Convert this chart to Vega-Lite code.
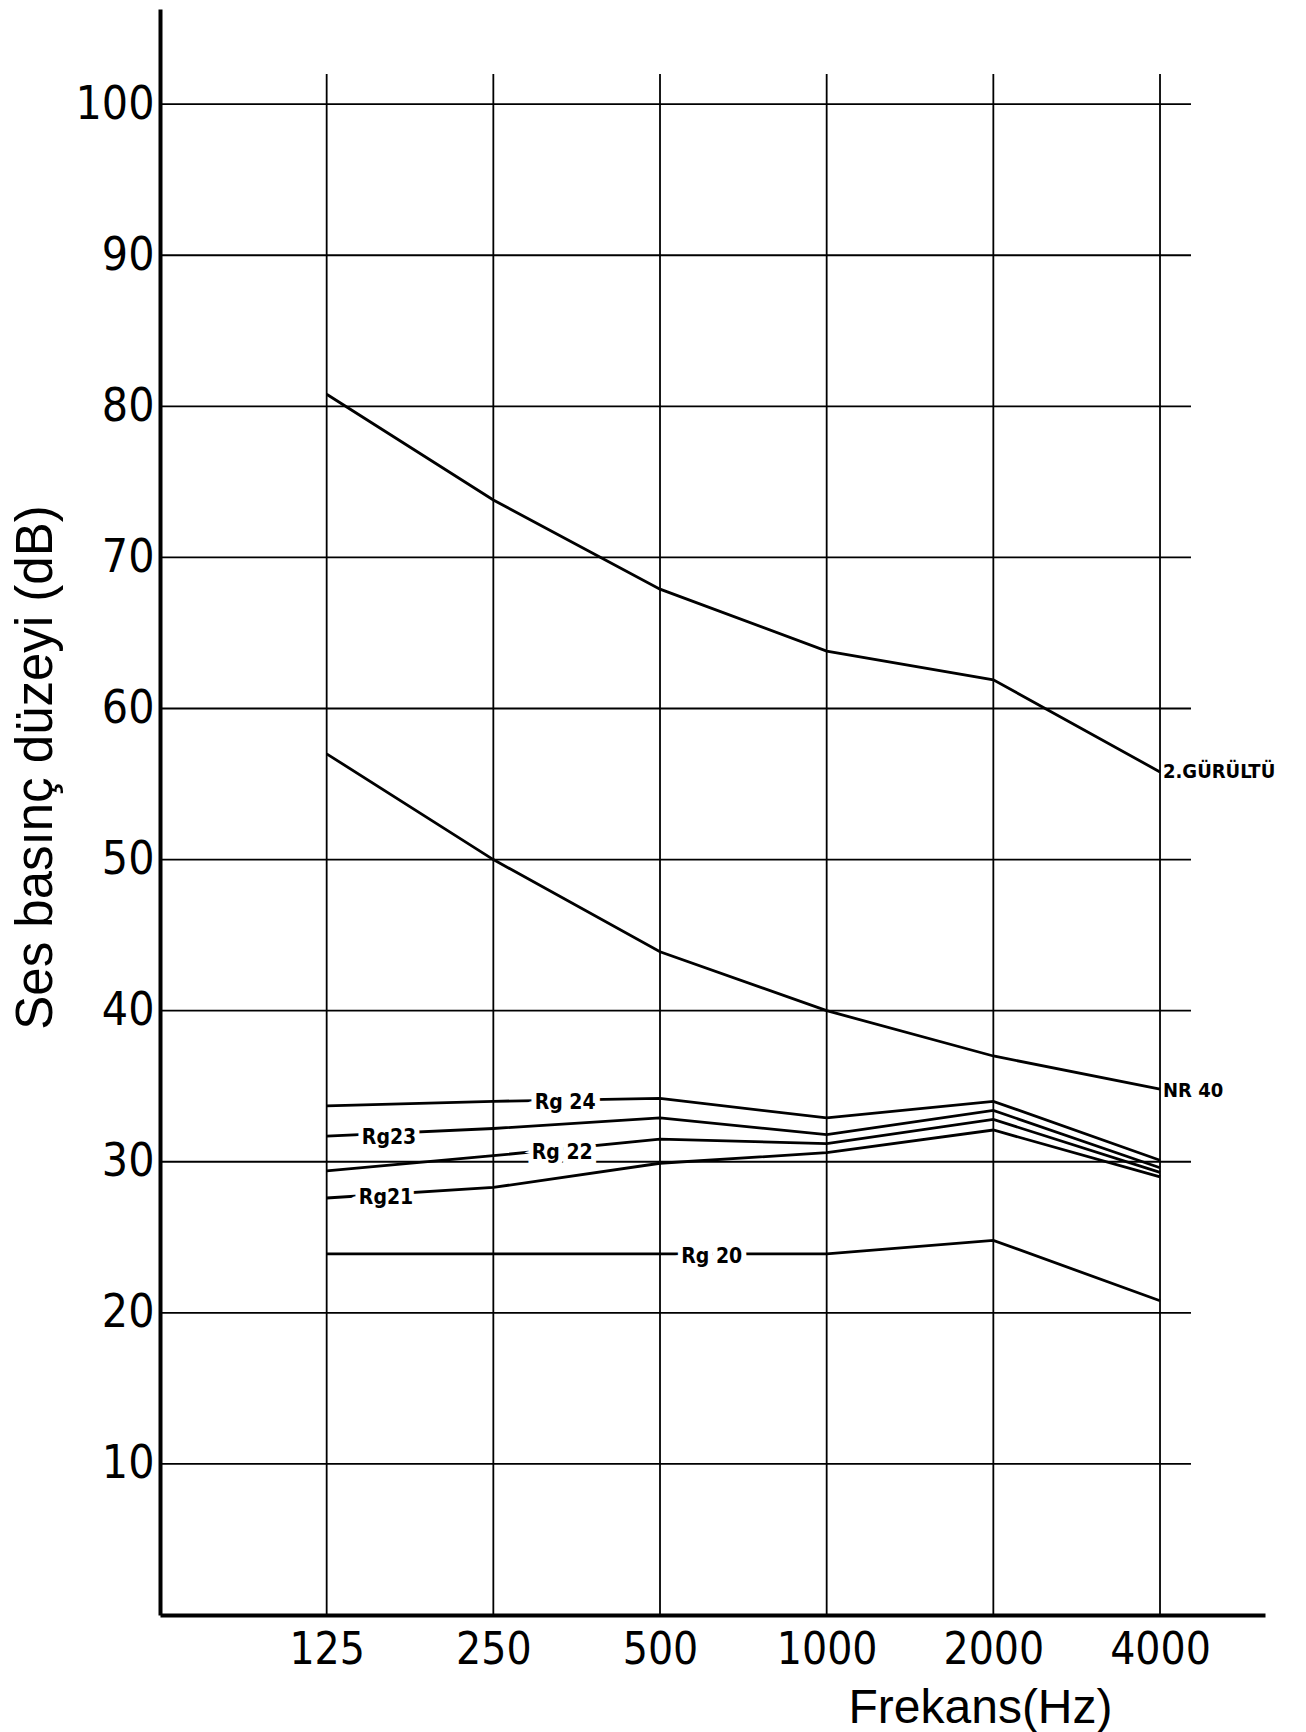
{
  "$schema": "https://vega.github.io/schema/vega-lite/v6.json",
  "autosize": "none",
  "width": 1105,
  "height": 1606,
  "padding": {"left": 160, "top": 9, "right": 41, "bottom": 117},
  "background": "white",
  "config": {"view": {"stroke": null}},
  "datasets": {
    "curves": [
      {"s": "2.GÜRÜLTÜ", "f": 125, "db": 80.8},
      {"s": "2.GÜRÜLTÜ", "f": 250, "db": 73.8},
      {"s": "2.GÜRÜLTÜ", "f": 500, "db": 67.9},
      {"s": "2.GÜRÜLTÜ", "f": 1000, "db": 63.8},
      {"s": "2.GÜRÜLTÜ", "f": 2000, "db": 61.9},
      {"s": "2.GÜRÜLTÜ", "f": 4000, "db": 55.8},
      {"s": "NR 40", "f": 125, "db": 57.0},
      {"s": "NR 40", "f": 250, "db": 50.0},
      {"s": "NR 40", "f": 500, "db": 43.9},
      {"s": "NR 40", "f": 1000, "db": 40.0},
      {"s": "NR 40", "f": 2000, "db": 37.0},
      {"s": "NR 40", "f": 4000, "db": 34.8},
      {"s": "Rg24", "f": 125, "db": 33.7},
      {"s": "Rg24", "f": 250, "db": 34.0},
      {"s": "Rg24", "f": 500, "db": 34.2},
      {"s": "Rg24", "f": 1000, "db": 32.9},
      {"s": "Rg24", "f": 2000, "db": 34.0},
      {"s": "Rg24", "f": 4000, "db": 30.1},
      {"s": "Rg23", "f": 125, "db": 31.7},
      {"s": "Rg23", "f": 250, "db": 32.2},
      {"s": "Rg23", "f": 500, "db": 32.9},
      {"s": "Rg23", "f": 1000, "db": 31.8},
      {"s": "Rg23", "f": 2000, "db": 33.4},
      {"s": "Rg23", "f": 4000, "db": 29.6},
      {"s": "Rg22", "f": 125, "db": 29.4},
      {"s": "Rg22", "f": 250, "db": 30.4},
      {"s": "Rg22", "f": 500, "db": 31.5},
      {"s": "Rg22", "f": 1000, "db": 31.2},
      {"s": "Rg22", "f": 2000, "db": 32.8},
      {"s": "Rg22", "f": 4000, "db": 29.3},
      {"s": "Rg21", "f": 125, "db": 27.6},
      {"s": "Rg21", "f": 250, "db": 28.3},
      {"s": "Rg21", "f": 500, "db": 29.9},
      {"s": "Rg21", "f": 1000, "db": 30.6},
      {"s": "Rg21", "f": 2000, "db": 32.1},
      {"s": "Rg21", "f": 4000, "db": 29.0},
      {"s": "Rg20", "f": 125, "db": 23.9},
      {"s": "Rg20", "f": 250, "db": 23.9},
      {"s": "Rg20", "f": 500, "db": 23.9},
      {"s": "Rg20", "f": 1000, "db": 23.9},
      {"s": "Rg20", "f": 2000, "db": 24.8},
      {"s": "Rg20", "f": 4000, "db": 20.8}
    ],
    "inline": [
      {"t": "Rg 24", "f": 337, "db": 33.9},
      {"t": "Rg23", "f": 162, "db": 31.6},
      {"t": "Rg 22", "f": 333, "db": 30.6},
      {"t": "Rg21", "f": 160, "db": 27.6},
      {"t": "Rg 20", "f": 620, "db": 23.7}
    ],
    "endlabels": [
      {"t": "2.GÜRÜLTÜ", "f": 4000, "db": 55.8},
      {"t": "NR 40", "f": 4000, "db": 34.7}
    ],
    "vgrid": [
      {"f": 125}, {"f": 250}, {"f": 500}, {"f": 1000}, {"f": 2000}, {"f": 4000}
    ],
    "hgrid": [
      {"db": 10}, {"db": 20}, {"db": 30}, {"db": 40}, {"db": 50},
      {"db": 60}, {"db": 70}, {"db": 80}, {"db": 90}, {"db": 100}
    ]
  },
  "layer": [
    {
      "data": {"name": "vgrid"},
      "mark": {"type": "rule", "color": "black", "strokeWidth": 1.8},
      "encoding": {
        "x": {"field": "f", "type": "quantitative", "scale": {"type": "log", "base": 2, "domain": [62.5, 6190], "nice": false},
          "axis": {"values": [125, 250, 500, 1000, 2000, 4000], "format": "d", "ticks": false, "grid": false,
            "domainColor": "black", "domainWidth": 4, "labelFont": "DejaVu Sans Condensed, Liberation Sans, sans-serif", "labelFontSize": 44,
            "labelColor": "black", "labelPadding": 13, "labelDx": 10, "labelFlush": false,
            "title": "Frekans(Hz)", "titleFont": "Liberation Sans, sans-serif", "titleFontSize": 48, "titleFontWeight": "normal",
            "titleColor": "black", "titleX": 820, "titleY": 107, "titleBaseline": "alphabetic", "titleAlign": "center"}},
        "y": {"datum": 0, "type": "quantitative"},
        "y2": {"datum": 102}
      }
    },
    {
      "data": {"name": "hgrid"},
      "mark": {"type": "rule", "color": "black", "strokeWidth": 1.8},
      "encoding": {
        "y": {"field": "db", "type": "quantitative", "scale": {"domain": [0, 106.3], "nice": false},
          "axis": {"values": [10, 20, 30, 40, 50, 60, 70, 80, 90, 100], "ticks": false, "grid": false,
            "domainColor": "black", "domainWidth": 4, "labelFont": "DejaVu Sans Condensed, Liberation Sans, sans-serif", "labelFontSize": 46,
            "labelColor": "black", "labelPadding": 6, "labelFlush": false,
            "title": "Ses basınç düzeyi (dB)", "titleFont": "Liberation Sans, sans-serif", "titleFontSize": 51, "titleFontWeight": "normal",
            "titleColor": "black", "titleAngle": -90, "titleX": -109, "titleY": 758, "titleBaseline": "alphabetic", "titleAlign": "center"}},
        "x": {"datum": 62.5, "type": "quantitative"},
        "x2": {"datum": 4550}
      }
    },
    {
      "data": {"name": "curves"},
      "mark": {"type": "line", "color": "black", "strokeWidth": 2.8},
      "encoding": {
        "x": {"field": "f", "type": "quantitative"},
        "y": {"field": "db", "type": "quantitative"},
        "detail": {"field": "s"}
      }
    },
    {
      "data": {"name": "inline"},
      "mark": {"type": "text", "font": "DejaVu Sans Condensed, Liberation Sans, sans-serif", "fontWeight": "bold", "fontSize": 21, "stroke": "white", "strokeWidth": 10, "fill": "white", "baseline": "middle", "align": "center"},
      "encoding": {
        "x": {"field": "f", "type": "quantitative"},
        "y": {"field": "db", "type": "quantitative"},
        "text": {"field": "t"}
      }
    },
    {
      "data": {"name": "inline"},
      "mark": {"type": "text", "font": "DejaVu Sans Condensed, Liberation Sans, sans-serif", "fontWeight": "bold", "fontSize": 21, "color": "black", "baseline": "middle", "align": "center"},
      "encoding": {
        "x": {"field": "f", "type": "quantitative"},
        "y": {"field": "db", "type": "quantitative"},
        "text": {"field": "t"}
      }
    },
    {
      "data": {"name": "endlabels"},
      "mark": {"type": "text", "font": "DejaVu Sans Condensed, Liberation Sans, sans-serif", "fontWeight": "bold", "fontSize": 20, "color": "black", "baseline": "middle", "align": "left", "dx": 3},
      "encoding": {
        "x": {"field": "f", "type": "quantitative"},
        "y": {"field": "db", "type": "quantitative"},
        "text": {"field": "t"}
      }
    }
  ]
}
